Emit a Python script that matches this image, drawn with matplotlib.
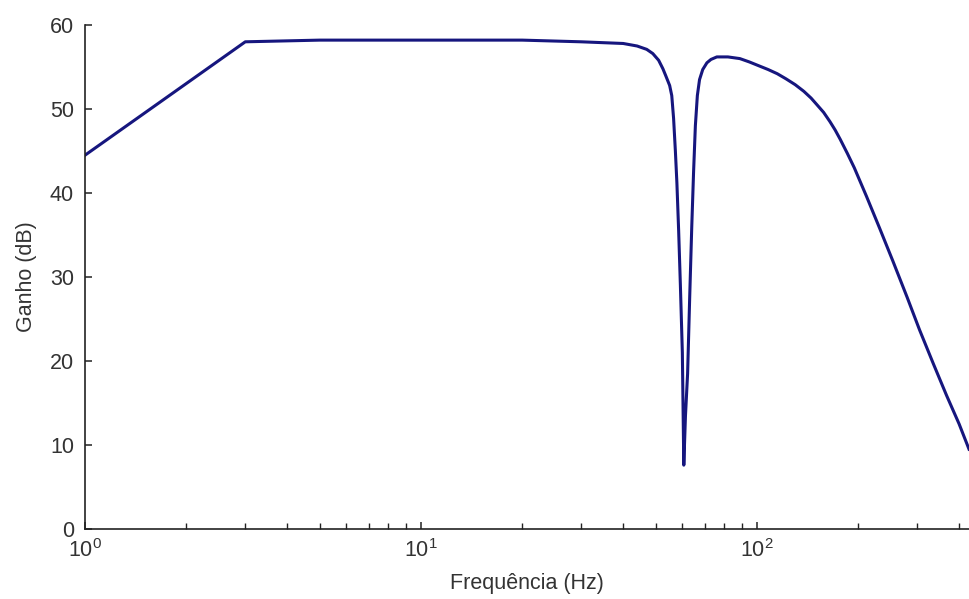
import numpy as np
import matplotlib
matplotlib.use("Agg")
import matplotlib.pyplot as plt

# frequency response (Hz, dB)
freq = [1, 3, 5, 10, 20, 30, 40, 44, 47, 49, 51, 52.5, 53.5, 55.0, 55.8, 56.5,
        57.2, 57.8, 58.5, 59.2, 60.0, 60.6, 61.3, 62.2, 63.1, 64.0, 64.8, 65.6,
        66.5, 67.5, 69.0, 71.0, 73.0, 76.0, 82.0, 89.0, 95.0, 102, 108, 115,
        122, 130, 138, 145, 151, 158, 165, 171, 177, 186, 195, 212, 232, 254,
        280, 305, 335, 367, 400, 428]
gain = [44.5, 58.0, 58.2, 58.2, 58.2, 58.0, 57.8, 57.5, 57.1, 56.6, 55.8, 54.8,
        54.0, 52.8, 51.6, 48.9, 45.0, 41.2, 35.5, 29.0, 21.0, 7.6, 13.5, 18.5,
        27.6, 36.0, 42.5, 48.0, 51.6, 53.5, 54.7, 55.5, 55.9, 56.2, 56.2, 56.0,
        55.6, 55.1, 54.7, 54.2, 53.6, 52.9, 52.1, 51.3, 50.5, 49.6, 48.5, 47.5,
        46.4, 44.7, 43.0, 39.6, 35.8, 31.9, 27.6, 23.7, 19.7, 15.9, 12.5, 9.5]

yticks = [0, 10, 20, 30, 40, 50, 60]

plt.rcParams['font.family'] = ['Liberation Sans', 'DejaVu Sans']
plt.rcParams['mathtext.default'] = 'regular'
plt.rcParams['font.size'] = 15.5

fig = plt.figure(figsize=(9.69, 5.99), dpi=100)
W, H = 969, 599
ax = fig.add_axes([85 / W, (H - 529) / H, (969 - 85) / W, (529 - 25) / H])

ax.plot(freq, gain, color='#16167e', lw=2.2, solid_joinstyle='round')

ax.set_xscale('log')
ax.set_xlim(1, 428)
ax.set_ylim(0, 60)
ax.set_yticks(yticks)

for s in ['top', 'right']:
    ax.spines[s].set_visible(False)
for s in ['left', 'bottom']:
    ax.spines[s].set_linewidth(1.2)
    ax.spines[s].set_color('#222222')

ax.tick_params(which='major', direction='in', length=5, width=1.1, colors='#222222')
ax.tick_params(which='minor', direction='in', length=4, width=1.0, colors='#222222')
ax.tick_params(axis='y', pad=8)
ax.tick_params(axis='x', pad=7)
ax.tick_params(labelcolor='#333333')

ax.set_xlabel('Frequência (Hz)', color='#333333', labelpad=8)
ax.set_ylabel('Ganho (dB)', color='#333333', labelpad=9)

fig.savefig('out.png', dpi=100)
